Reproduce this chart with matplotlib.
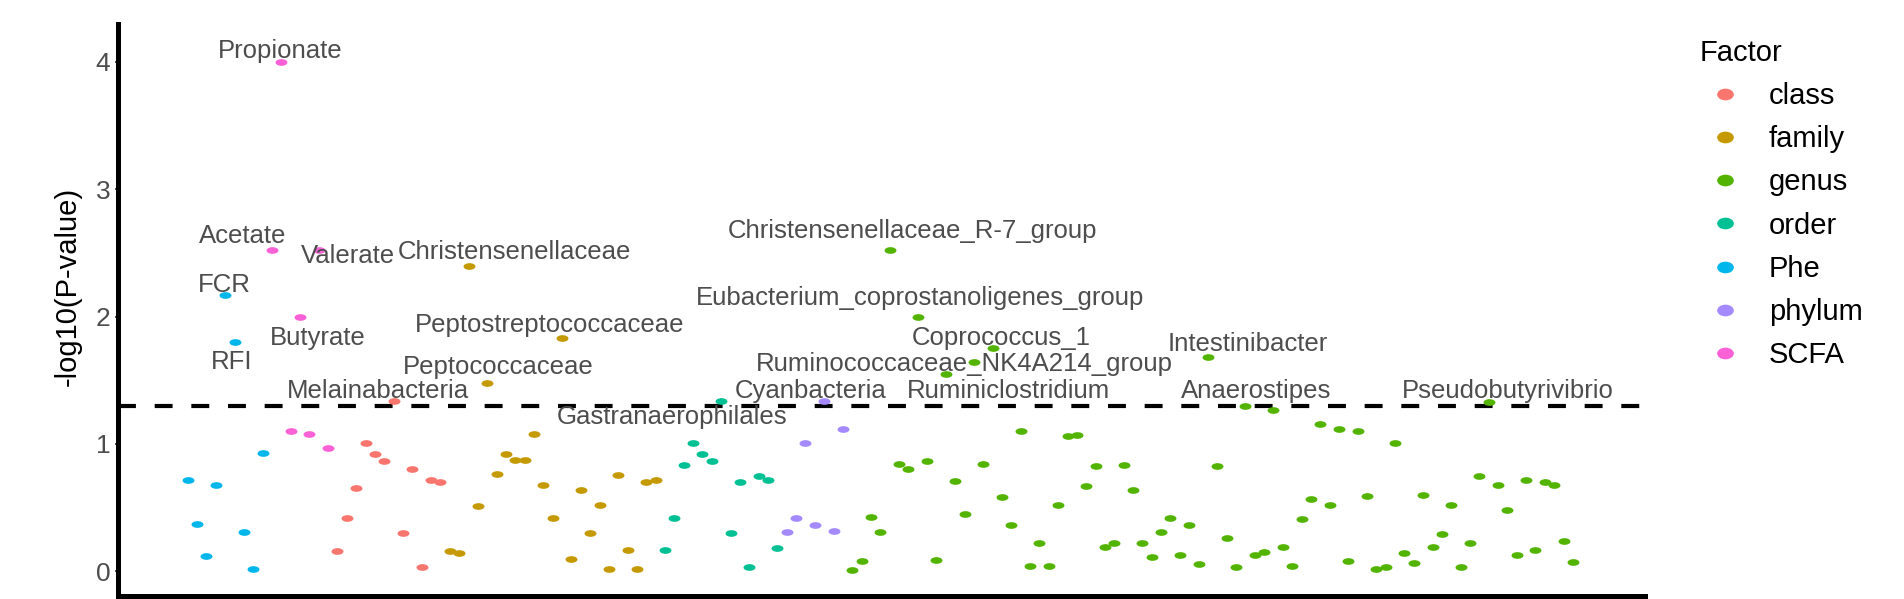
import numpy as np
import matplotlib
matplotlib.use("Agg")
import matplotlib.pyplot as plt
from matplotlib.path import Path
from matplotlib.lines import Line2D

# ---------------- data (-log10 P-values, in plotting order) ----------------
group_order = ["Phe", "SCFA", "class", "family", "order", "phylum", "genus"]
legend_order = ["class", "family", "genus", "order", "Phe", "phylum", "SCFA"]

phe = [0.72, 0.37, 0.12, 0.68, 2.17, 1.80, 0.31, 0.02, 0.93]
scfa = [2.52, 4.00, 1.10, 2.00, 1.08, 2.52, 0.97]
cls = [0.16, 0.42, 0.65, 1.01, 0.92, 0.865, 1.34, 0.30, 0.80, 0.03, 0.72, 0.70]
family = [0.16, 0.14, 2.40, 0.51, 1.48, 0.76, 0.92, 0.87, 0.87, 1.08, 0.675, 0.42,
          1.83, 0.10, 0.64, 0.30, 0.52, 0.02, 0.755, 0.17, 0.02, 0.70, 0.72]
order = [0.17, 0.42, 0.835, 1.01, 0.92, 0.865, 1.34, 0.30, 0.70, 0.03, 0.75, 0.72, 0.18]
phylum = [0.31, 0.42, 1.01, 0.36, 1.34, 0.32, 1.12]
genus = [0.01, 0.08, 0.43, 0.31, 2.52, 0.845, 0.80, 2.00, 0.866, 0.09,
         1.546, 0.71, 0.45, 1.64, 0.84, 1.75, 0.58, 0.36, 1.10, 0.04,
         0.22, 0.04, 0.52, 1.06, 1.07, 0.67, 0.83, 0.19, 0.22, 0.835,
         0.64, 0.22, 0.11, 0.31, 0.42, 0.13, 0.36, 0.055, 1.68, 0.83,
         0.26, 0.03, 1.30, 0.13, 0.155, 1.27, 0.19, 0.04, 0.41, 0.57,
         1.16, 0.52, 1.12, 0.08, 1.10, 0.59, 0.02, 0.03, 1.01, 0.14,
         0.065, 0.595, 0.19, 0.29, 0.52, 0.03, 0.22, 0.75, 1.33, 0.68,
         0.485, 0.13, 0.72, 0.17, 0.70, 0.68, 0.24, 0.07]

values = {"Phe": phe, "SCFA": scfa, "class": cls, "family": family,
          "order": order, "phylum": phylum, "genus": genus}

# labelled points: (text, group, index within group)
labelled = [
    ("Propionate", "SCFA", 1), ("Acetate", "SCFA", 0), ("Valerate", "SCFA", 5),
    ("FCR", "Phe", 4), ("RFI", "Phe", 5), ("Butyrate", "SCFA", 3),
    ("Melainabacteria", "class", 6), ("Christensenellaceae", "family", 2),
    ("Peptostreptococcaceae", "family", 12), ("Peptococcaceae", "family", 4),
    ("Gastranaerophilales", "order", 6), ("Cyanbacteria", "phylum", 4),
    ("Christensenellaceae_R-7_group", "genus", 4),
    ("Eubacterium_coprostanoligenes_group", "genus", 7),
    ("Coprococcus_1", "genus", 15), ("Ruminococcaceae_NK4A214_group", "genus", 13),
    ("Ruminiclostridium", "genus", 10), ("Intestinibacter", "genus", 38),
    ("Anaerostipes", "genus", 42), ("Pseudobutyrivibrio", "genus", 68),
]
threshold = -np.log10(0.05)

# ---------------- layout (label offsets from point, in data units) ----------------
label_offsets = {
    "Propionate": (-0.08, 0.03), "Acetate": (-3.1, 0.06), "Valerate": (3.1, -0.10),
    "FCR": (-0.13, 0.02), "RFI": (-0.30, -0.21), "Butyrate": (1.87, -0.22),
    "Melainabacteria": (-1.72, 0.023), "Christensenellaceae": (4.9, 0.055),
    "Peptostreptococcaceae": (-1.3, 0.05), "Peptococcaceae": (1.2, 0.066),
    "Gastranaerophilales": (-5.28, -0.186), "Cyanbacteria": (-1.42, 0.023),
    "Christensenellaceae_R-7_group": (2.4, 0.10),
    "Eubacterium_coprostanoligenes_group": (0.2, 0.09),
    "Coprococcus_1": (0.9, 0.03), "Ruminococcaceae_NK4A214_group": (-1.0, -0.068),
    "Ruminiclostridium": (6.7, -0.183), "Intestinibacter": (4.3, 0.05),
    "Anaerostipes": (1.15, 0.063), "Pseudobutyrivibrio": (2.0, 0.033),
}

colors = {"class": "#F8766D", "family": "#C49A00", "genus": "#53B400",
          "order": "#00C094", "Phe": "#00B6EB", "phylum": "#A58AFF", "SCFA": "#FB61D7"}

plt.rcParams["font.family"] = ["Liberation Sans", "DejaVu Sans"]

W, H = 1904, 599
fig = plt.figure(figsize=(W / 100, H / 100), dpi=100)
ax = fig.add_axes([118 / W, 3.5 / H, (1645 - 118) / W, (596 - 24 + 0) / H])

circ = Path.unit_circle()
pt_marker = Path(circ.vertices * np.array([1.0, 0.56]), circ.codes)
leg_marker = Path(circ.vertices * np.array([1.0, 0.70]), circ.codes)

xpos = {}
start = 0
for g in group_order:
    n = len(values[g])
    xs = np.arange(start, start + n)
    xpos[g] = xs
    ax.scatter(xs, values[g], s=8.6 ** 2, marker=pt_marker, color=colors[g],
               linewidths=0, zorder=3)
    start += n

ax.axhline(threshold, color="black", lw=3.0, dashes=(4.3, 4.5), zorder=2)

for text, g, i in labelled:
    dx, dy = label_offsets[text]
    x0 = xpos[g][i]
    y0 = values[g][i]
    ax.text(x0 + dx, y0 + dy, text, ha="center", va="baseline",
            fontsize=18.5, color="#4D4D4D", zorder=4)

ax.set_xlim(-7.45, 155.7)
ax.set_ylim(-0.19, 4.30)
ax.set_yticks([0, 1, 2, 3, 4])
ax.set_xticks([])
for s in ["top", "right"]:
    ax.spines[s].set_visible(False)
for s in ["left", "bottom"]:
    ax.spines[s].set_linewidth(3.6)
    ax.spines[s].set_color("black")
ax.tick_params(axis="y", length=2.5, width=1.2, color="#333333", pad=3,
               labelsize=19, labelcolor="#4D4D4D")

fig.text(68 / W, 1 - 286 / H, "-log10(P-value)", rotation=90, ha="center",
         va="center", fontsize=21, color="black")

handles = [Line2D([], [], linestyle="none", marker=leg_marker, markersize=12,
                  markerfacecolor=colors[g], markeredgewidth=0) for g in legend_order]
leg = fig.legend(handles, legend_order, loc="upper left",
                 bbox_to_anchor=(1700 / W, 1 - 39 / H), frameon=False,
                 title="Factor", title_fontsize=21, fontsize=21,
                 alignment="left", borderpad=0, borderaxespad=0,
                 handlelength=1.71, handletextpad=0.65, labelspacing=0.52)

fig.savefig("out.png", dpi=100)
